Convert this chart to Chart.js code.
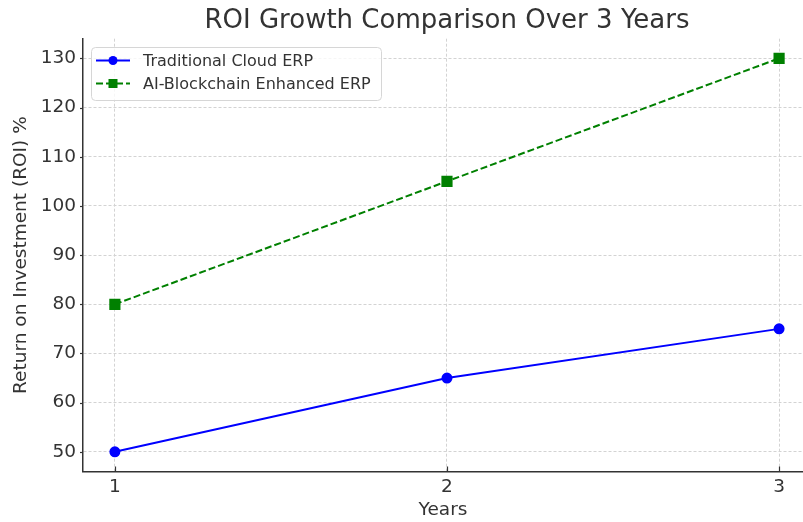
<!DOCTYPE html>
<html>
<head>
<meta charset="utf-8">
<script src="https://cdn.jsdelivr.net/npm/chart.js@4/dist/chart.umd.min.js"></script>
<style>
html,body{margin:0;padding:0;overflow:hidden;background:#fff;}
canvas{display:block;}
</style>
</head>
<body>
<canvas id="c" width="803" height="522"></canvas>
<script>
const years = [1, 2, 3];
const traditional = [50, 65, 75];
const aiBlockchain = [80, 105, 130];
const yTickValues = [50, 60, 70, 80, 90, 100, 110, 120, 130];
const xTickValues = [1, 2, 3];
const seriesNames = ['Traditional Cloud ERP', 'AI-Blockchain Enhanced ERP'];
const titleText = 'ROI Growth Comparison Over 3 Years';
const xTitle = 'Years';
const yTitle = 'Return on Investment (ROI) %';

const FONT = "'DejaVu Sans', sans-serif";
const TXT = '#333333';

const legendPlugin = {
  id: 'mplLegend',
  afterDatasetsDraw(chart) {
    const ctx = chart.ctx;
    const x0 = 91.5, y0 = 47.5, w = 290, h = 53, r = 4;
    ctx.save();
    ctx.beginPath();
    ctx.moveTo(x0 + r, y0);
    ctx.arcTo(x0 + w, y0, x0 + w, y0 + h, r);
    ctx.arcTo(x0 + w, y0 + h, x0, y0 + h, r);
    ctx.arcTo(x0, y0 + h, x0, y0, r);
    ctx.arcTo(x0, y0, x0 + w, y0, r);
    ctx.closePath();
    ctx.fillStyle = 'rgba(255,255,255,0.8)';
    ctx.fill();
    ctx.strokeStyle = '#d6d6d6';
    ctx.lineWidth = 1;
    ctx.stroke();
    chart.data.datasets.forEach((ds, i) => {
      const cy = 60.5 + i * 23;
      ctx.setLineDash(ds.borderDash || []);
      ctx.strokeStyle = ds.borderColor;
      ctx.lineWidth = ds.borderWidth;
      ctx.beginPath();
      ctx.moveTo(96, cy);
      ctx.lineTo(130, cy);
      ctx.stroke();
      ctx.setLineDash([]);
      ctx.fillStyle = ds.pointBackgroundColor;
      if (ds.pointStyle === 'rect') {
        ctx.fillRect(113 - 4.5, cy - 4.5, 9, 9);
      } else {
        ctx.beginPath();
        ctx.arc(113, cy, 4.5, 0, Math.PI * 2);
        ctx.fill();
      }
      ctx.fillStyle = TXT;
      ctx.font = '16px ' + FONT;
      ctx.textBaseline = 'middle';
      ctx.textAlign = 'left';
      ctx.fillText(ds.label, 143, cy + 1);
    });
    ctx.restore();
  }
};

const tickMarksPlugin = {
  id: 'tickMarks',
  afterDatasetsDraw(chart) {
    const ctx = chart.ctx;
    const xs = chart.scales.x, ys = chart.scales.y;
    const a = chart.chartArea;
    ctx.save();
    ctx.strokeStyle = TXT;
    ctx.lineWidth = 1.2;
    xTickValues.forEach(v => {
      const px = Math.round(xs.getPixelForValue(v)) + 0.5;
      ctx.beginPath(); ctx.moveTo(px, a.bottom); ctx.lineTo(px, a.bottom - 5); ctx.stroke();
    });
    yTickValues.forEach(v => {
      const py = Math.round(ys.getPixelForValue(v)) + 0.5;
      ctx.beginPath(); ctx.moveTo(a.left, py); ctx.lineTo(a.left - 3, py); ctx.stroke();
    });
    ctx.restore();
  }
};

// Center the title over the full (partly cropped) axes span 0.9..3.1
const titleCenterPlugin = {
  id: 'titleCenter',
  beforeDraw(chart) {
    const tb = chart.titleBlock;
    if (!tb) return;
    const xs = chart.scales.x;
    const cx = (xs.getPixelForValue(0.9) + xs.getPixelForValue(3.1)) / 2;
    tb.left = 2 * cx - tb.right;
  }
};

new Chart(document.getElementById('c'), {
  type: 'line',
  data: {
    datasets: [
      {
        label: seriesNames[0],
        data: years.map((x, i) => ({x: x, y: traditional[i]})),
        borderColor: '#0000ff',
        backgroundColor: '#0000ff',
        pointBackgroundColor: '#0000ff',
        pointBorderColor: '#0000ff',
        borderWidth: 2,
        pointRadius: 4.5,
        pointStyle: 'circle',
        tension: 0,
        fill: false
      },
      {
        label: seriesNames[1],
        data: years.map((x, i) => ({x: x, y: aiBlockchain[i]})),
        borderColor: '#008000',
        backgroundColor: '#008000',
        pointBackgroundColor: '#008000',
        pointBorderColor: '#008000',
        borderWidth: 2,
        borderDash: [7, 3],
        pointRadius: 6.5,
        pointStyle: 'rect',
        tension: 0,
        fill: false
      }
    ]
  },
  options: {
    responsive: false,
    animation: false,
    layout: {padding: 0, autoPadding: false},
    plugins: {
      legend: {display: false},
      tooltip: {enabled: false},
      title: {
        display: true,
        text: titleText,
        fullSize: false,
        color: TXT,
        font: {family: FONT, size: 26, weight: 'normal', lineHeight: 1.2},
        padding: {top: 6, bottom: 1.5}
      }
    },
    scales: {
      x: {
        type: 'linear',
        min: 0.904,
        max: 3.072,
        afterBuildTicks: s => { s.ticks = xTickValues.map(v => ({value: v})); },
        afterFit: s => { s.height = 50.5; s.paddingLeft = 0; s.paddingRight = 0; },
        ticks: {color: TXT, font: {family: FONT, size: 18.5}, padding: 5, maxRotation: 0,
                callback: v => String(v)},
        grid: {color: '#d3d3d3', lineWidth: 1, drawTicks: false},
        border: {display: true, color: TXT, width: 1.5, dash: [3, 2]},
        title: {display: true, text: xTitle, color: TXT, font: {family: FONT, size: 18.5}, padding: {top: 0, bottom: 1}}
      },
      y: {
        type: 'linear',
        min: 46,
        max: 134,
        afterBuildTicks: s => { s.ticks = yTickValues.map(v => ({value: v})); },
        afterFit: s => { s.width = 83; s.paddingTop = 0; s.paddingBottom = 0; },
        ticks: {color: TXT, font: {family: FONT, size: 18.5}, padding: 7,
                callback: v => String(v)},
        grid: {color: '#d3d3d3', lineWidth: 1, drawTicks: false},
        border: {display: true, color: TXT, width: 1.5, dash: [3, 2]},
        title: {display: true, text: yTitle, color: TXT, font: {family: FONT, size: 18.5}, padding: {top: 10, bottom: 0}}
      }
    }
  },
  plugins: [titleCenterPlugin, legendPlugin, tickMarksPlugin]
});
</script>
</body>
</html>
